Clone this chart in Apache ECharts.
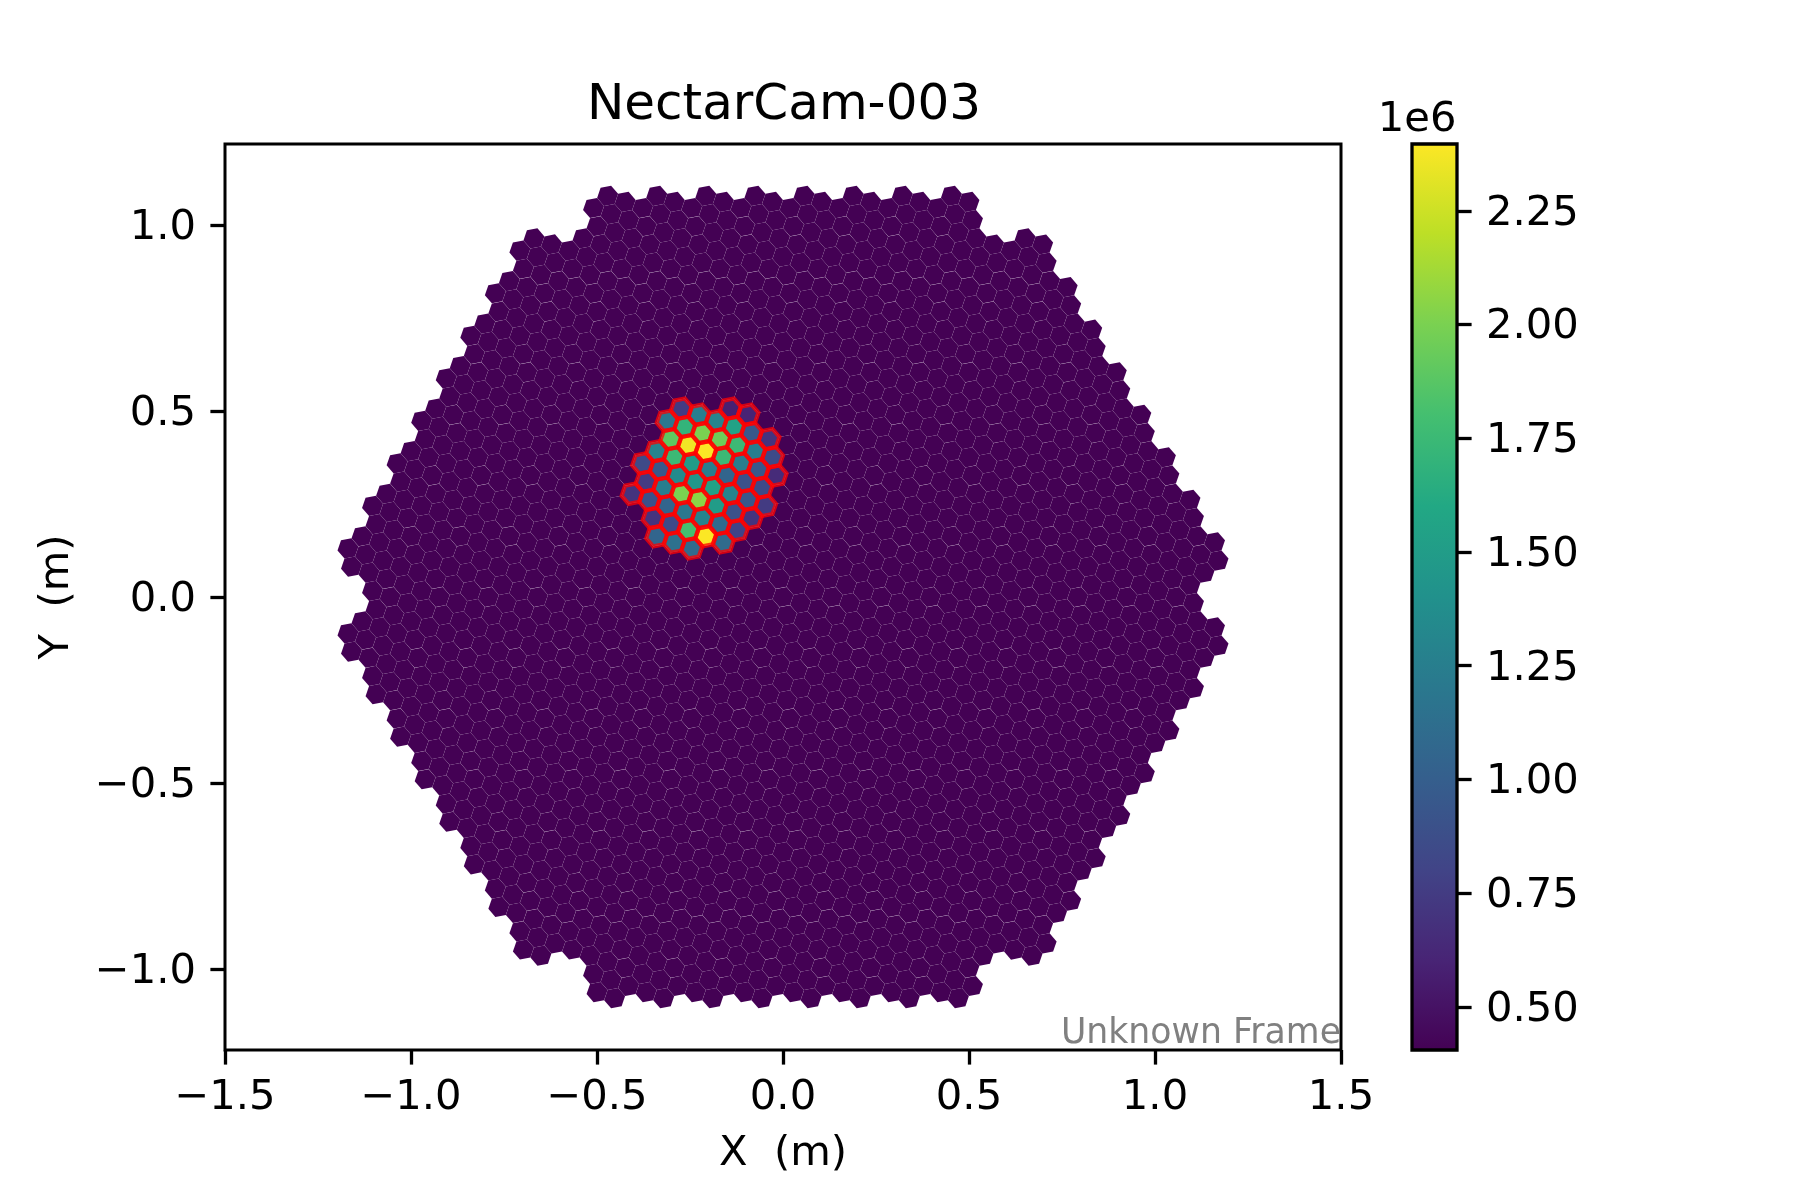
<!DOCTYPE html>
<html><head><meta charset="utf-8">
<style>html,body{margin:0;padding:0;background:#fff}#c{width:1800px;height:1200px}</style>
<script src="https://cdn.jsdelivr.net/npm/echarts@6/dist/echarts.min.js"></script></head>
<body><div id="c"></div>
<script>
// Camera layout: rows of 7-pixel modules, given as lattice indices
const moduleRowV     = [ 9, 8, 7, 6, 5, 4, 3, 2, 1, 0,-1,-2,-3,-4,-5,-6,-7,-8,-9];
const moduleRowFirst = [-8,-9,-9,-9,-9,-9,-9,-9,-9,-8,-8,-7,-6,-5,-4,-3,-2,-1, 1];
const moduleRowLast  = [-1, 1, 2, 3, 4, 5, 6, 7, 8, 8, 9, 9, 9, 9, 9, 9, 9, 9, 8];
const moduleRowShift = [.0005,.0005,0,0,0,0,0,0,0,0,0,0,0,0,0,0,0,-.0005,-.0005]; // small gap seen in the picture, metres
const modulePixelI   = [0, 1, 0,-1,-1, 0, 1];
const modulePixelJ   = [0, 0, 1, 1, 0,-1,-1];
const pixelPitch = 0.0499;      // metres
const latticeAngleDeg = -19.107;
const backgroundValue = 0.406;  // x 1e6

// Bright pixels (outlined in red): lattice index and charge x 1e6
const hotI = [-11,-10,
  -13,-12,-11,-10,-9,-8,
  -13,-12,-11,-10,-9,-8,-7,
  -12,-11,-10,-9,-8,-7,-6,
  -12,-11,-10,-9,-8,-7,-6,
  -12,-11,-10,-9,-8,-7,-6,-5,
  -11,-10,-9,-8,-7,-6,-5,
  -11,-10,-9,-8,-7,-6,-5,
  -9,-8,-7,-6,-5,
  -8,-7,-6];
const hotJ = [10,10,
  9,9,9,9,9,9,
  8,8,8,8,8,8,8,
  7,7,7,7,7,7,7,
  6,6,6,6,6,6,6,
  5,5,5,5,5,5,5,5,
  4,4,4,4,4,4,4,
  3,3,3,3,3,3,3,
  2,2,2,2,2,
  1,1,1];
const hotValue = [0.58,0.60,
  0.75,1.25,1.30,1.55,0.95,0.70,
  1.20,1.70,2.00,1.95,1.75,1.25,0.85,
  1.90,2.36,2.39,1.75,1.25,0.95,0.65,
  1.30,1.75,1.50,1.25,1.05,0.90,0.85,
  0.85,0.95,1.35,1.45,1.55,1.30,0.95,0.75,
  0.75,1.25,2.00,2.05,1.50,0.90,0.70,
  0.70,0.90,1.05,1.20,1.30,1.10,0.80,
  0.70,0.85,1.80,2.39,1.10,
  1.05,1.15,1.10];

const yTicks = [-1,-0.5,0,0.5,1];
const cbarTicks = [0.5,0.75,1,1.25,1.5,1.75,2,2.25];
const cbarMin = 0.405, cbarMax = 2.397;
const viridis = ['#440154','#482475','#414487','#355f8d','#2a788e','#21918c','#22a884','#44bf70','#7ad151','#bddf26','#fde725'];

// lattice -> metres
const th = latticeAngleDeg*Math.PI/180;
const a1 = [pixelPitch*Math.cos(th), pixelPitch*Math.sin(th)];
const a2 = [pixelPitch*Math.cos(th+Math.PI/3), pixelPitch*Math.sin(th+Math.PI/3)];
const pos = (i,j)=>[i*a1[0]+j*a2[0], i*a1[1]+j*a2[1]];
const hotMap = new Map(hotI.map((v,k)=>[v+','+hotJ[k],hotValue[k]]));

const cells = [];
moduleRowV.forEach((v,r)=>{
  for(let u=moduleRowFirst[r];u<=moduleRowLast[r];u++){
    // module centre in pixel lattice: u*(2,1)+v*(-1,3)
    const ci=2*u-v, cj=u+3*v;
    modulePixelI.forEach((di,k)=>{
      const i=ci+di,j=cj+modulePixelJ[k],p=pos(i,j),key=i+','+j;
      cells.push([p[0],p[1]+moduleRowShift[r],hotMap.has(key)?hotMap.get(key):backgroundValue]);
    });
  }
});
const hotCells = hotI.map((i,k)=>{const p=pos(i,hotJ[k]);return [p[0],p[1],hotValue[k]];});

function hexPoints(api,x,y,shrink){
  const R=pixelPitch/Math.sqrt(3)*shrink, pts=[];
  for(let k=0;k<6;k++){
    const t=th+Math.PI/6+k*Math.PI/3;
    pts.push(api.coord([x+R*Math.cos(t),y+R*Math.sin(t)]));
  }
  return pts;
}
const FONT='DejaVu Sans';
const minus=s=>s.replace('-','\u2212');
const richLabel={t:{fontFamily:FONT,fontSize:41.7,color:'#000',padding:[6,0,0,0]}};
const chart=echarts.init(document.getElementById('c'),null,{renderer:'canvas'});
chart.setOption({
  animation:false,
  backgroundColor:'#fff',
  textStyle:{fontFamily:FONT},
  title:[
    {text:'NectarCam-003',left:784,top:81,padding:0,textAlign:'center',textStyle:{fontFamily:FONT,fontSize:50,fontWeight:'normal',color:'#000'}},
    {text:'1e6',left:1456.5,top:99.5,padding:0,textAlign:'right',textStyle:{fontFamily:FONT,fontSize:41.7,fontWeight:'normal',color:'#000'}},
    {text:'Unknown Frame',left:1341,top:1016,padding:0,textAlign:'right',textStyle:{fontFamily:FONT,fontSize:34.7,fontWeight:'normal',color:'#808080'}}
  ],
  grid:[
    {left:225,top:144,width:1116,height:906,show:true,borderColor:'#000',borderWidth:3,backgroundColor:'#fff'},
    {left:1412,top:144,width:45,height:906,show:false}
  ],
  xAxis:[
    {type:'value',gridIndex:0,min:-1.5,max:1.5,interval:0.5,z:10,
     name:'X  (m)',nameLocation:'middle',nameGap:83,nameTextStyle:{fontFamily:FONT,fontSize:41.7,color:'#000'},
     axisLine:{show:false,onZero:false},splitLine:{show:false},
     axisTick:{show:true,length:14.6,inside:false,lineStyle:{color:'#000',width:3.3}},
     axisLabel:{margin:27,color:'#000',fontFamily:FONT,fontSize:41.7,showMinLabel:true,showMaxLabel:true,hideOverlap:false,
       formatter:v=>minus(v.toFixed(1))}},
    {type:'value',gridIndex:1,min:0,max:1,show:false}
  ],
  yAxis:[
    {type:'value',gridIndex:0,min:-1.218,max:1.218,z:10,
     name:'Y  (m)',nameLocation:'middle',nameGap:147,nameRotate:90,nameTextStyle:{fontFamily:FONT,fontSize:41.7,color:'#000'},
     axisLine:{show:false,onZero:false},splitLine:{show:false},
     axisTick:{show:true,length:14.6,customValues:yTicks,lineStyle:{color:'#000',width:3.3}},
     axisLabel:{margin:29,color:'#000',fontFamily:FONT,fontSize:41.7,customValues:yTicks,hideOverlap:false,rich:richLabel,
       formatter:v=>'{t|'+minus(v.toFixed(1))+'}'}},
    {type:'value',gridIndex:1,position:'right',min:cbarMin,max:cbarMax,z:10,
     axisLine:{show:false,onZero:false},splitLine:{show:false},
     axisTick:{show:true,length:14.6,customValues:cbarTicks,lineStyle:{color:'#000',width:3.3}},
     axisLabel:{margin:29,color:'#000',fontFamily:FONT,fontSize:41.7,customValues:cbarTicks,hideOverlap:false,rich:richLabel,
       formatter:v=>'{t|'+v.toFixed(2)+'}'}}
  ],
  visualMap:[{type:'continuous',show:false,seriesIndex:0,dimension:2,min:cbarMin,max:cbarMax,inRange:{color:viridis}}],
  series:[
    {type:'custom',xAxisIndex:0,yAxisIndex:0,coordinateSystem:'cartesian2d',silent:true,clip:false,z:2,
     encode:{x:0,y:1},data:cells,
     renderItem:(p,api)=>({type:'polygon',shape:{points:hexPoints(api,api.value(0),api.value(1),0.9975)},
       style:{fill:api.visual('color'),stroke:null}})},
    {type:'custom',xAxisIndex:0,yAxisIndex:0,coordinateSystem:'cartesian2d',silent:true,clip:false,z:3,
     encode:{x:0,y:1},data:hotCells,
     renderItem:(p,api)=>({type:'polygon',shape:{points:hexPoints(api,api.value(0),api.value(1),1)},
       style:{fill:'none',stroke:'#ff0000',lineWidth:4.17,opacity:0.75}})},
    {type:'custom',xAxisIndex:1,yAxisIndex:1,coordinateSystem:'cartesian2d',silent:true,clip:false,z:4,
     encode:{x:0,y:1},data:[[0,cbarMin]],
     renderItem:(p,api)=>{
       const a=api.coord([0,cbarMin]),b=api.coord([1,cbarMax]);
       return {type:'rect',shape:{x:a[0],y:b[1],width:b[0]-a[0],height:a[1]-b[1]},
         style:{stroke:'#000',lineWidth:3.3,
           fill:new echarts.graphic.LinearGradient(0,1,0,0,viridis.map((c,k)=>({offset:k/(viridis.length-1),color:c})))}};
     }}
  ]
});
</script></body></html>
